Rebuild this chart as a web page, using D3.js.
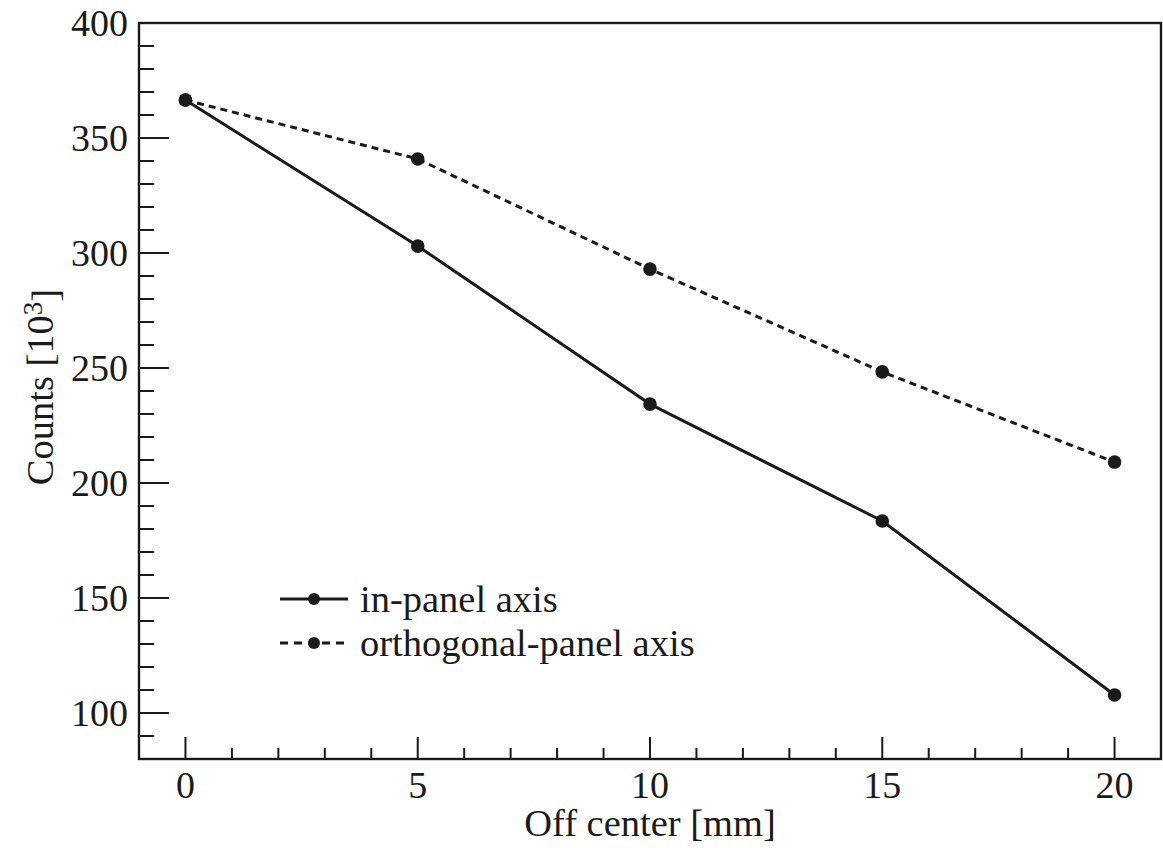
<!DOCTYPE html>
<html>
<head>
<meta charset="utf-8">
<script src="https://cdn.jsdelivr.net/npm/d3@7"></script>
<style>
  body { margin: 0; background: #fff; }
  text { font-family: "Liberation Serif", "Times New Roman", serif; fill: #1a1a1a; }
</style>
</head>
<body>
<div id="chart"></div>
<script>
// data
var offsets = [0, 5, 10, 15, 20];
var inPanel = [366.5, 303, 234.3, 183.5, 107.8];
var orthoPanel = [366.5, 340.9, 293, 248.3, 209.1];
var xTickLabels = [0, 5, 10, 15, 20];
var yTickLabels = [100, 150, 200, 250, 300, 350, 400];
var seriesNames = ["in-panel axis", "orthogonal-panel axis"];

var width = 1163, height = 848;
var margin = { left: 139, right: 2, top: 23, bottom: 89 };

var svg = d3.select("#chart").append("svg")
    .attr("width", width)
    .attr("height", height);

var x = d3.scaleLinear().domain([-1, 21]).range([margin.left, width - margin.right]);
var y = d3.scaleLinear().domain([80, 400]).range([height - margin.bottom, margin.top]);

var ink = "#1a1a1a";

// frame
svg.append("rect")
    .attr("x", x(-1)).attr("y", y(400))
    .attr("width", x(21) - x(-1)).attr("height", y(80) - y(400))
    .attr("fill", "none").attr("stroke", ink).attr("stroke-width", 2.4);

// y ticks (major every 50, minor every 10)
var yMinor = d3.range(80, 401, 10);
svg.selectAll(".ytick").data(yMinor).enter().append("line")
    .attr("x1", x(-1))
    .attr("x2", d => x(-1) + (d % 50 === 0 ? 30 : 15))
    .attr("y1", d => y(d)).attr("y2", d => y(d))
    .attr("stroke", ink).attr("stroke-width", 2);

svg.selectAll(".ylab").data(yTickLabels).enter().append("text")
    .attr("x", x(-1) - 11)
    .attr("y", d => y(d))
    .attr("dy", "0.35em")
    .attr("text-anchor", "end")
    .style("font-size", "38px")
    .text(d => d);

// x ticks (major every 5, minor every 1)
var xMinor = d3.range(0, 21, 1);
svg.selectAll(".xtick").data(xMinor).enter().append("line")
    .attr("x1", d => x(d)).attr("x2", d => x(d))
    .attr("y1", y(80))
    .attr("y2", d => y(80) - (d % 5 === 0 ? 22 : 11))
    .attr("stroke", ink).attr("stroke-width", 2);

svg.selectAll(".xlab").data(xTickLabels).enter().append("text")
    .attr("x", d => x(d))
    .attr("y", y(80) + 39)
    .attr("text-anchor", "middle")
    .style("font-size", "38px")
    .text(d => d);

// axis titles
svg.append("text")
    .attr("x", (x(-1) + x(21)) / 2)
    .attr("y", 836)
    .attr("text-anchor", "middle")
    .style("font-size", "38.5px")
    .text("Off center [mm]");

var yt = svg.append("text")
    .attr("transform", "translate(53,387) rotate(-90)")
    .attr("text-anchor", "middle")
    .style("font-size", "38.5px");
yt.append("tspan").text("Counts [10");
yt.append("tspan").attr("dy", "-0.42em").style("font-size", "27px").text("3");
yt.append("tspan").attr("dy", "0.42em").text("]");

// series
var line = d3.line().x(d => x(d[0])).y(d => y(d[1]));
var series = [
    { name: seriesNames[0], values: inPanel, dash: null },
    { name: seriesNames[1], values: orthoPanel, dash: "7,5" }
];

series.forEach(function(s) {
    var pts = offsets.map((o, i) => [o, s.values[i]]);
    svg.append("path")
        .datum(pts)
        .attr("d", line)
        .attr("fill", "none")
        .attr("stroke", ink)
        .attr("stroke-width", 3)
        .attr("stroke-dasharray", s.dash);
    svg.selectAll(null).data(pts).enter().append("circle")
        .attr("cx", d => x(d[0])).attr("cy", d => y(d[1]))
        .attr("r", 6.8)
        .attr("fill", ink);
});

// legend
var legend = svg.append("g");
series.forEach(function(s, i) {
    var ly = 599 + i * 44;
    legend.append("line")
        .attr("x1", 280).attr("x2", 348)
        .attr("y1", ly).attr("y2", ly)
        .attr("stroke", ink).attr("stroke-width", 3)
        .attr("stroke-dasharray", s.dash ? "8,6" : null);
    legend.append("circle")
        .attr("cx", 314).attr("cy", ly).attr("r", 6).attr("fill", ink);
    legend.append("text")
        .attr("x", 360).attr("y", ly)
        .attr("dy", "0.33em")
        .style("font-size", "38.5px")
        .text(s.name);
});
</script>
</body>
</html>
